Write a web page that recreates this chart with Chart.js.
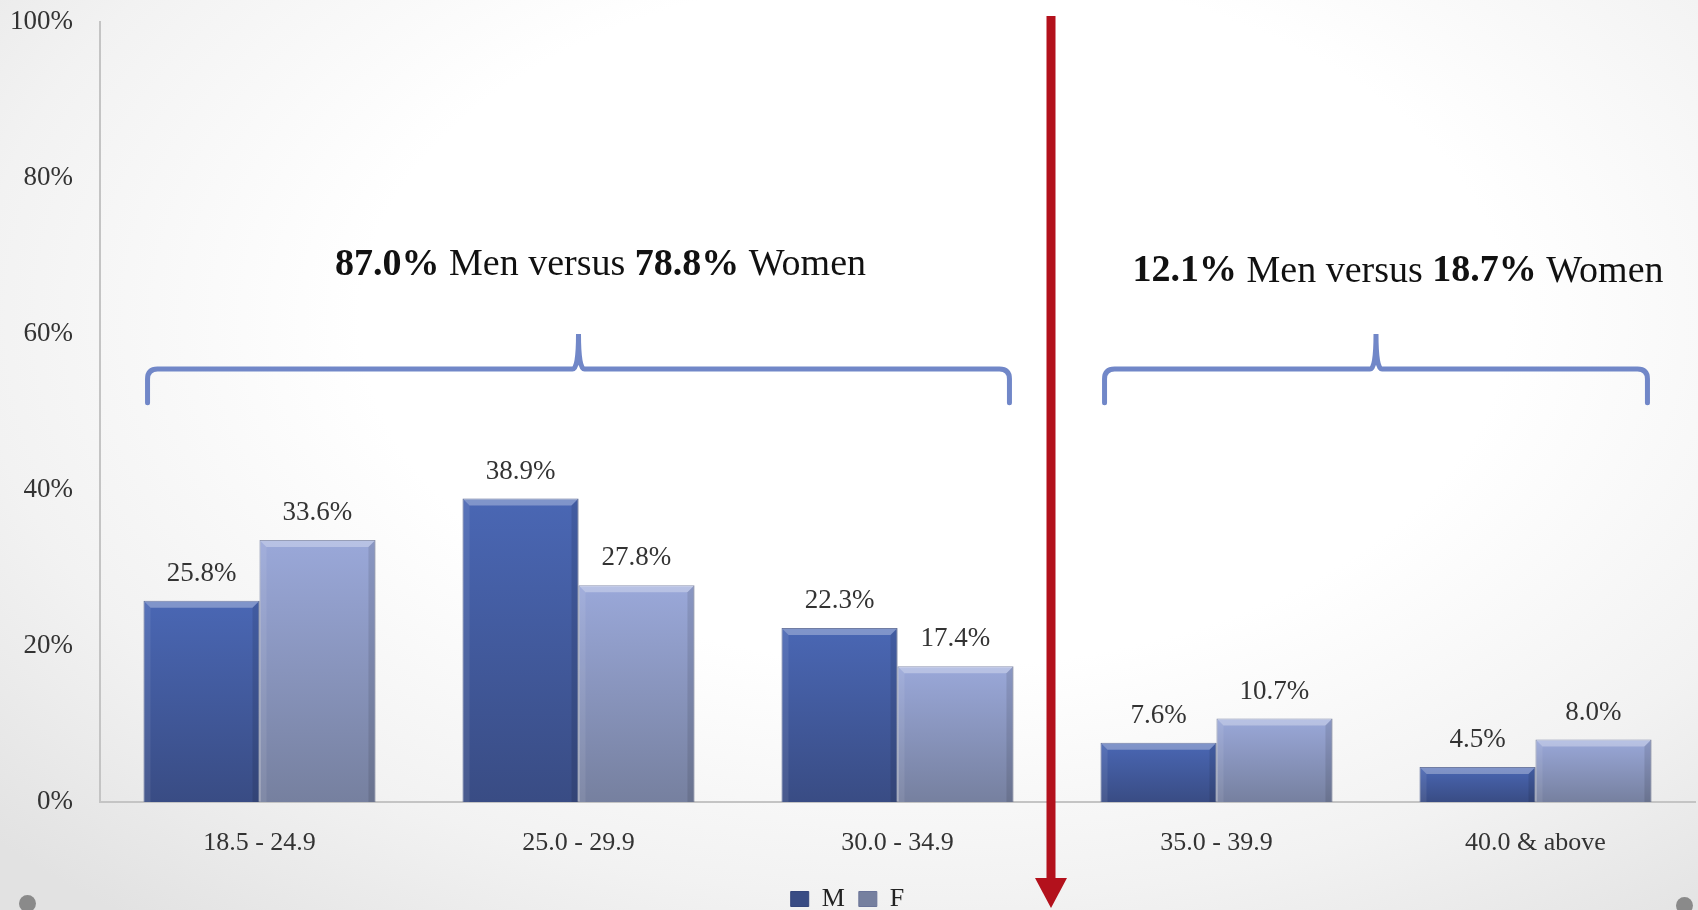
<!DOCTYPE html>
<html lang="en">
<head>
<meta charset="UTF-8">
<title>BMI categories by sex</title>
<script src="https://cdn.jsdelivr.net/npm/chart.js@4.4.0/dist/chart.umd.min.js"></script>
<style>
  html, body { margin: 0; padding: 0; }
  body {
    width: 1698px; height: 910px; overflow: hidden; position: relative;
    background: radial-gradient(ellipse 75% 85% at 55% 35%, #ffffff 45%, #f2f2f2 75%, #e2e2e2 100%);
  }
  #wrap { position: absolute; left: 0; top: 0; width: 1698px; height: 910px; }
  .dot { position: absolute; width: 17px; height: 17px; border-radius: 50%; background: #8a8a8a; }
</style>
</head>
<body>
<div id="wrap"><canvas id="bmiChart"></canvas></div>
<div class="dot" style="left:19px; top:895px;"></div>
<div class="dot" style="left:1676px; top:897px;"></div>

<script>
// data
const categories = ['18.5 - 24.9', '25.0 - 29.9', '30.0 - 34.9', '35.0 - 39.9', '40.0 & above'];
const men = [25.8, 38.9, 22.3, 7.6, 4.5];
const women = [33.6, 27.8, 17.4, 10.7, 8.0];
const yTicks = [0, 20, 40, 60, 80, 100];

// annotations: which category groups each brace covers + its caption
const braceGroups = [[0, 2], [3, 4]];
const braceCaptions = [
  [['87.0%', true], [' Men versus ', false], ['78.8%', true], [' Women', false]],
  [['12.1%', true], [' Men versus ', false], ['18.7%', true], [' Women', false]]
];

const FONT = '"Liberation Serif", "DejaVu Serif", serif';

// vertical gradient per bar: lighter at the top of each bar
function barGradient(top, bottom) {
  const cache = {};
  return function (context) {
    const chart = context.chart;
    if (!chart.chartArea || context.type !== 'data') return top;
    const i = context.dataIndex;
    if (!cache[i]) {
      const y = chart.scales.y;
      const y0 = y.getPixelForValue(context.raw), y1 = y.getPixelForValue(0);
      const g = chart.ctx.createLinearGradient(0, y0, 0, y1);
      g.addColorStop(0, top);
      g.addColorStop(1, bottom);
      cache[i] = g;
    }
    return cache[i];
  };
}

const overlay = {
  id: 'overlay',
  afterDatasetsDraw(chart) {
    const ctx = chart.ctx;
    ctx.save();
    chart.data.datasets.forEach((ds, di) => {
      chart.getDatasetMeta(di).data.forEach((bar, i) => {
        const w = bar.width, l = bar.x - w / 2, r = bar.x + w / 2;
        const t = bar.y, b = bar.base, bev = 7;
        // bevel: light top strip, darker sides
        ctx.fillStyle = 'rgba(255,255,255,0.30)';
        ctx.beginPath();
        ctx.moveTo(l, t); ctx.lineTo(r, t); ctx.lineTo(r - bev, t + bev); ctx.lineTo(l + bev, t + bev);
        ctx.closePath(); ctx.fill();
        ctx.fillStyle = 'rgba(0,0,0,0.10)';
        ctx.beginPath();
        ctx.moveTo(r, t); ctx.lineTo(r, b); ctx.lineTo(r - bev, b); ctx.lineTo(r - bev, t + bev);
        ctx.closePath(); ctx.fill();
        ctx.fillStyle = 'rgba(255,255,255,0.08)';
        ctx.beginPath();
        ctx.moveTo(l, t); ctx.lineTo(l + bev, t + bev); ctx.lineTo(l + bev, b); ctx.lineTo(l, b);
        ctx.closePath(); ctx.fill();
        // value label
        ctx.fillStyle = '#333';
        ctx.font = '27px ' + FONT;
        ctx.textAlign = 'center';
        ctx.textBaseline = 'alphabetic';
        ctx.fillText(ds.data[i].toFixed(1) + '%', bar.x, t - 20);
      });
    });
    ctx.restore();
  },
  afterDraw(chart) {
    const ctx = chart.ctx;
    const x = chart.scales.x, y = chart.scales.y;
    const step = x.getPixelForValue(1) - x.getPixelForValue(0);
    const half = step * 0.727 / 2;
    ctx.save();

    // braces + captions
    braceGroups.forEach((g, k) => {
      const x0 = x.getPixelForValue(g[0]) - half + 4;
      const x1 = x.getPixelForValue(g[1]) + half - 4;
      const xm = (x0 + x1) / 2;
      const yEnd = y.getPixelForValue(51.2);
      const yBar = y.getPixelForValue(55.5);
      const yPeak = y.getPixelForValue(60);
      const rr = 10;
      ctx.strokeStyle = '#7187c8';
      ctx.lineWidth = 5;
      ctx.lineCap = 'round';
      ctx.beginPath();
      ctx.moveTo(x0, yEnd);
      ctx.lineTo(x0, yBar + rr);
      ctx.quadraticCurveTo(x0, yBar, x0 + rr, yBar);
      ctx.lineTo(xm - rr * 0.6, yBar);
      ctx.quadraticCurveTo(xm, yBar, xm, yPeak);
      ctx.quadraticCurveTo(xm, yBar, xm + rr * 0.6, yBar);
      ctx.lineTo(x1 - rr, yBar);
      ctx.quadraticCurveTo(x1, yBar, x1, yBar + rr);
      ctx.lineTo(x1, yEnd);
      ctx.stroke();

      // caption, bold numbers
      const parts = braceCaptions[k];
      let total = 0;
      parts.forEach(p => {
        ctx.font = (p[1] ? 'bold ' : '') + '38px ' + FONT;
        total += ctx.measureText(p[0]).width;
      });
      let cx = xm + 22 - total / 2;
      const cy = y.getPixelForValue(k === 0 ? 68.8 : 68.0);
      ctx.fillStyle = '#111';
      ctx.textAlign = 'left';
      ctx.textBaseline = 'middle';
      parts.forEach(p => {
        ctx.font = (p[1] ? 'bold ' : '') + '38px ' + FONT;
        ctx.fillText(p[0], cx, cy);
        cx += ctx.measureText(p[0]).width;
      });
    });

    // red divider arrow between obese class I and II
    const ax = (x.getPixelForValue(2) + x.getPixelForValue(3)) / 2 - 6;
    const headTop = chart.height - 32;
    ctx.fillStyle = '#b3111c';
    ctx.fillRect(ax - 4.5, 16, 9, headTop - 16 + 1);
    ctx.beginPath();
    ctx.moveTo(ax - 16, headTop);
    ctx.lineTo(ax + 16, headTop);
    ctx.lineTo(ax, chart.height - 2);
    ctx.closePath();
    ctx.fill();
    ctx.restore();
  }
};

new Chart(document.getElementById('bmiChart'), {
  type: 'bar',
  data: {
    labels: categories,
    datasets: [
      {
        label: 'M',
        data: men,
        backgroundColor: barGradient('#4a67b4', '#394c84'),
        borderColor: '#34467c',
        borderWidth: 1,
        barPercentage: 1,
        categoryPercentage: 0.727
      },
      {
        label: 'F',
        data: women,
        backgroundColor: barGradient('#9aa8d9', '#76809f'),
        borderColor: '#6a7499',
        borderWidth: 1,
        barPercentage: 1,
        categoryPercentage: 0.727
      }
    ]
  },
  options: {
    responsive: true,
    maintainAspectRatio: false,
    animation: false,
    layout: { padding: { top: 22, right: 3, left: 0, bottom: -12 } },
    plugins: {
      legend: {
        display: true,
        position: 'bottom',
        labels: {
          boxWidth: 18,
          boxHeight: 15,
          padding: 14,
          color: '#222',
          font: { family: FONT, size: 26, lineHeight: 1 }
        }
      },
      tooltip: { enabled: false }
    },
    scales: {
      x: {
        grid: { display: false, drawTicks: false },
        border: { display: true, color: '#c4c4c4', width: 2 },
        ticks: { color: '#333', padding: 26, font: { family: FONT, size: 26 } },
        afterFit(scale) { scale.height = 70; }
      },
      y: {
        min: 0,
        max: 100,
        afterBuildTicks(scale) { scale.ticks = yTicks.map(v => ({ value: v })); },
        grid: { display: false, drawTicks: false },
        border: { display: true, color: '#c4c4c4', width: 2 },
        ticks: {
          color: '#333',
          padding: 27,
          font: { family: FONT, size: 27 },
          callback: v => v + '%'
        },
        afterFit(scale) {
          scale.width = 100;
          // tick padding should not push the plot area down
          scale.paddingTop = 12;
          scale.paddingBottom = 12;
        }
      }
    }
  },
  plugins: [overlay]
});
</script>
</body>
</html>
